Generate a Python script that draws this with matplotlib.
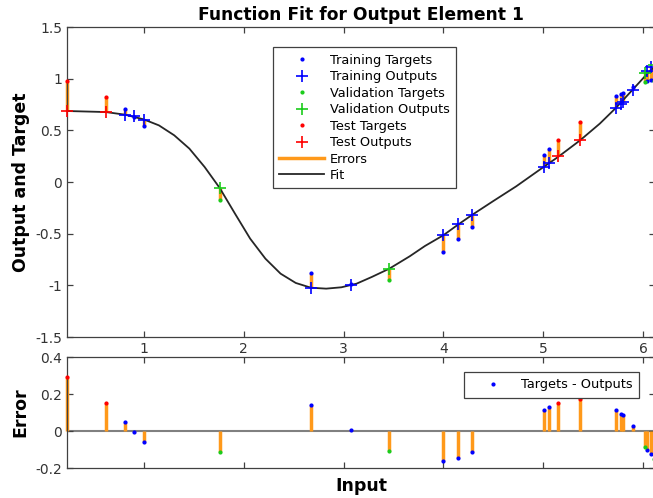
import numpy as np
import matplotlib
matplotlib.use("Agg")
import matplotlib.pyplot as plt
from matplotlib.lines import Line2D

# values
train_x = [0.806, 0.90, 0.997, 2.672, 3.076, 3.998, 4.15, 4.29, 5.003, 5.053, 5.727, 5.777, 5.795, 5.897, 6.04, 6.08]
train_out = [0.652, 0.635, 0.600, -1.023, -0.994, -0.516, -0.41, -0.316, 0.150, 0.187, 0.716, 0.758, 0.774, 0.894, 1.075, 1.11]
train_err = [0.05, -0.005, -0.06, 0.14, 0.005, -0.16, -0.145, -0.115, 0.115, 0.13, 0.115, 0.09, 0.085, 0.025, -0.10, -0.125]

val_x = [1.758, 3.457, 6.02, 6.11]
val_out = [-0.058, -0.839, 1.055, 1.13]
val_err = [-0.115, -0.11, -0.085, -0.15]

test_x = [0.228, 0.616, 5.148, 5.369]
test_out = [0.687, 0.677, 0.252, 0.41]
test_err = [0.29, 0.15, 0.15, 0.175]

fit_x = [0.228, 0.616, 0.806, 0.997, 1.149, 1.302, 1.454, 1.607, 1.758, 1.911, 2.063, 2.216,
         2.368, 2.520, 2.672, 2.825, 2.977, 3.129, 3.282, 3.457, 3.662, 3.815, 3.998, 4.150,
         4.291, 4.500, 4.729, 5.003, 5.148, 5.369, 5.567, 5.727, 5.890, 6.043, 6.13]
fit_y = [0.687, 0.677, 0.652, 0.606, 0.548, 0.452, 0.323, 0.145, -0.058, -0.306, -0.548, -0.742,
         -0.887, -0.977, -1.023, -1.032, -1.019, -0.984, -0.919, -0.839, -0.719, -0.619, -0.516, -0.410,
         -0.316, -0.184, -0.042, 0.145, 0.242, 0.403, 0.565, 0.716, 0.887, 1.048, 1.129]

xticks = [1, 2, 3, 4, 5, 6]

blue = (0, 0, 1)
green = (0.1, 0.8, 0.1)
red = (1, 0, 0)
orange = (1, 0.6, 0.1)
axcol = (0.25, 0.25, 0.25)

sets = [
    ("Training", train_x, train_out, train_err, blue),
    ("Validation", val_x, val_out, val_err, green),
    ("Test", test_x, test_out, test_err, red),
]

fig = plt.figure(figsize=(6.53, 4.98), dpi=100)
ax1 = fig.add_axes([67 / 653, 1 - 337 / 498, 588 / 653, 310 / 498])
ax2 = fig.add_axes([67 / 653, 1 - 468 / 498, 588 / 653, 111 / 498])

leg_kw = dict(loc="upper left", borderaxespad=0, fancybox=False, framealpha=1,
              edgecolor=axcol, fontsize=9.3, handlelength=3.5, handletextpad=0.4,
              borderpad=0.5)

# top panel
handles = []
for name, x, out, err, col in sets:
    out = np.array(out)
    tgt = out + np.array(err)
    ax1.vlines(x, out, tgt, color=orange, lw=2.5, zorder=2, clip_on=False)
for name, x, out, err, col in sets:
    out = np.array(out)
    tgt = out + np.array(err)
    h1, = ax1.plot(x, tgt, ".", color=col, ms=4, zorder=4, clip_on=False)
    h2, = ax1.plot(x, out, "+", color=col, ms=9, mew=1.2, zorder=5, clip_on=False)
    handles += [h1, h2]
fit_h, = ax1.plot(fit_x, fit_y, "-", color=(0.15, 0.15, 0.15), lw=1.3, zorder=3)

handles += [Line2D([], [], color=orange, lw=2.5), fit_h]
labels = ["Training Targets", "Training Outputs", "Validation Targets", "Validation Outputs",
          "Test Targets", "Test Outputs", "Errors", "Fit"]
leg = ax1.legend(handles, labels, bbox_to_anchor=(0.350, 0.935), labelspacing=0.27, **leg_kw)
leg.get_frame().set_linewidth(0.9)

ax1.set_xlim(0.2277, 6.12)
ax1.set_ylim(-1.5, 1.5)
ax1.set_xticks(xticks)
ax1.set_yticks([-1.5, -1, -0.5, 0, 0.5, 1, 1.5])
ax1.set_yticklabels(["-1.5", "-1", "-0.5", "0", "0.5", "1", "1.5"])
ax1.set_title("Function Fit for Output Element 1", fontsize=12.3, fontweight="bold", pad=5)
ax1.set_ylabel("Output and Target", fontsize=12.5, fontweight="bold")

# bottom panel
ax2.axhline(0, color=(0.5, 0.5, 0.5), lw=1.5, zorder=1)
for name, x, out, err, col in sets:
    ax2.vlines(x, 0, err, color=orange, lw=2.5, zorder=2, clip_on=False)
for name, x, out, err, col in sets:
    ax2.plot(x, err, ".", color=col, ms=4, zorder=4, clip_on=False)
dot_proxy = Line2D([], [], ls="", marker=".", color=blue, ms=4)
leg2 = ax2.legend([dot_proxy], ["Targets - Outputs"], bbox_to_anchor=(0.675, 0.865), **leg_kw)
leg2.get_frame().set_linewidth(0.9)

ax2.set_xlim(0.2277, 6.12)
ax2.set_ylim(-0.2, 0.4)
ax2.set_xticks(xticks)
ax2.set_xticklabels([])
ax2.set_yticks([-0.2, 0, 0.2, 0.4])
ax2.set_yticklabels(["-0.2", "0", "0.2", "0.4"])
ax2.set_ylabel("Error", fontsize=12.5, fontweight="bold")
ax2.set_xlabel("Input", fontsize=12.5, fontweight="bold", labelpad=3)

for ax in (ax1, ax2):
    ax.tick_params(direction="in", top=True, right=True, length=4, width=0.9,
                   colors=axcol, labelsize=10, labelcolor=(0.2, 0.2, 0.2))
    for s in ax.spines.values():
        s.set_color(axcol)
        s.set_linewidth(0.9)

fig.savefig("out.png", dpi=100)
